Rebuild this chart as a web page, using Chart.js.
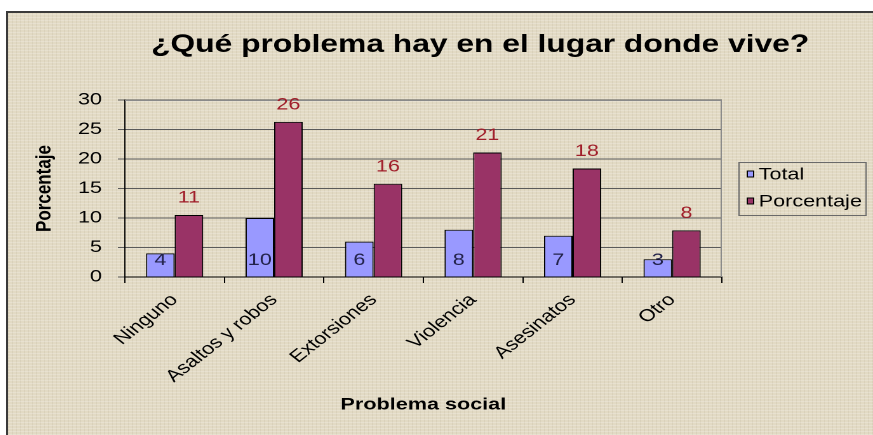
<!DOCTYPE html>
<html><head><meta charset="utf-8">
<script src="https://cdn.jsdelivr.net/npm/chart.js@4.4.1/dist/chart.umd.min.js"></script>
<style>
html,body{margin:0;padding:0;background:#fff;width:873px;height:435px;overflow:hidden;}
#frame{position:absolute;left:6px;top:11px;width:865px;height:422px;border-top:2px solid #3a3a3a;border-left:2px solid #3a3a3a;background-color:#e2dac4;
 background-image:repeating-linear-gradient(0deg, rgba(255,255,255,0.20) 0px, rgba(255,255,255,0.20) 1px, transparent 1px, transparent 3px),
 repeating-linear-gradient(90deg, rgba(110,90,60,0.07) 0px, rgba(110,90,60,0.07) 1px, transparent 1px, transparent 4px);
 overflow:hidden;}
#wrap{position:absolute;left:0;top:0;width:681px;height:422px;transform:scaleX(1.2702);transform-origin:0 0;}
</style></head>
<body>
<div id="frame"><div id="wrap"><canvas id="c"></canvas></div></div>
<script>
const categories = ['Ninguno','Asaltos y robos','Extorsiones','Violencia','Asesinatos','Otro'];
const totalValues = [4,10,6,8,7,3];
const percentValues = [10.5,26.3,15.8,21.1,18.4,7.9];
const yTicks = [0,5,10,15,20,25,30];
const seriesNames = ['Total','Porcentaje'];
const seriesColors = ['#9999FF','#993366'];
const labelColors = ['#22224a','#a01e2a'];
const chartTitle = '¿Qué problema hay en el lugar donde vive?';
const xAxisTitle = 'Problema social';
const yAxisTitle = 'Porcentaje';

const FONT = '"Liberation Sans", Arial, sans-serif';

const titlePlugin = {
  id: 'customTitle',
  afterDraw(chart) {
    const ctx = chart.ctx;
    ctx.save();
    ctx.font = 'bold 25px ' + FONT;
    ctx.fillStyle = '#000';
    ctx.textAlign = 'center';
    ctx.textBaseline = 'middle';
    ctx.fillText(chartTitle, 371.7, 32);
    ctx.restore();
  }
};

const frameLines = {
  id: 'frameLines',
  beforeDatasetsDraw(chart) {
    const {ctx, chartArea: a} = chart;
    ctx.save();
    ctx.strokeStyle = '#8a8a8a';
    ctx.lineWidth = 1;
    ctx.beginPath();
    ctx.moveTo(a.left, a.top + 0.5);
    ctx.lineTo(a.right - 0.5, a.top + 0.5);
    ctx.lineTo(a.right - 0.5, a.bottom);
    ctx.stroke();
    ctx.restore();
  }
};

const valueLabels = {
  id: 'valueLabels',
  afterDatasetsDraw(chart) {
    const ctx = chart.ctx;
    ctx.save();
    ctx.font = '17px ' + FONT;
    ctx.textAlign = 'center';
    ctx.textBaseline = 'middle';
    chart.data.datasets.forEach((ds, di) => {
      const meta = chart.getDatasetMeta(di);
      meta.data.forEach((bar, i) => {
        const v = ds.data[i];
        ctx.fillStyle = labelColors[di];
        const y = di === 0 ? bar.base - 16 : bar.y - 17;
        ctx.fillText(String(Math.round(v)), bar.x, y);
      });
    });
    ctx.restore();
  }
};

const boxLegend = {
  id: 'boxLegend',
  afterDraw(chart) {
    const ctx = chart.ctx;
    ctx.save();
    ctx.strokeStyle = '#6a6a6a';
    ctx.lineWidth = 1;
    ctx.strokeRect(575.5, 149.5, 100, 53);
    ctx.font = '17px ' + FONT;
    ctx.textBaseline = 'middle';
    ctx.textAlign = 'left';
    chart.data.datasets.forEach((ds, i) => {
      const cy = 161 + i * 27;
      ctx.fillStyle = ds.backgroundColor;
      ctx.fillRect(582, cy - 3, 5, 6);
      ctx.strokeStyle = '#000';
      ctx.strokeRect(582, cy - 3, 5, 6);
      ctx.fillStyle = '#000';
      ctx.fillText(ds.label, 591, cy + 1);
    });
    ctx.restore();
  }
};

new Chart(document.getElementById('c'), {
  type: 'bar',
  data: {
    labels: categories,
    datasets: [
      {label: seriesNames[0], data: totalValues, backgroundColor: seriesColors[0], borderColor: '#000', borderWidth: 1, borderSkipped: 'start', categoryPercentage: 0.575, barPercentage: 1},
      {label: seriesNames[1], data: percentValues, backgroundColor: seriesColors[1], borderColor: '#000', borderWidth: 1, borderSkipped: 'start', categoryPercentage: 0.575, barPercentage: 1}
    ]
  },
  options: {
    responsive: true,
    maintainAspectRatio: false,
    animation: false,
    devicePixelRatio: 2,
    layout: {padding: {top: 87, right: 119, left: 18.8, bottom: 12}},
    plugins: {legend: {display: false}, title: {display: false}, tooltip: {enabled: false}},
    scales: {
      x: {
        grid: {display: true, drawOnChartArea: false, drawTicks: true, tickLength: 6, color: '#000', offset: true},
        border: {color: '#000', width: 1},
        ticks: {color: '#000', font: {family: FONT, size: 17}, minRotation: 45, maxRotation: 45, padding: 7, autoSkip: false},
        title: {display: true, text: xAxisTitle, color: '#000', font: {family: FONT, size: 17, weight: 'bold'}, padding: {top: 1, bottom: 8}}
      },
      y: {
        min: yTicks[0], max: yTicks[yTicks.length - 1],
        afterBuildTicks(scale) { scale.ticks = yTicks.map(v => ({value: v})); },
        grid: {color: '#5a5a5a', lineWidth: 1, drawTicks: true, tickLength: 5.5},
        border: {color: '#000', width: 1},
        ticks: {color: '#000', font: {family: FONT, size: 17}, padding: 12.5},
        title: {display: true, text: yAxisTitle, color: '#000', font: {family: FONT, size: 17, weight: 'bold'}, padding: {top: 0, bottom: 3.4}}
      }
    }
  },
  plugins: [frameLines, valueLabels, boxLegend, titlePlugin]
});
</script>
</body></html>
